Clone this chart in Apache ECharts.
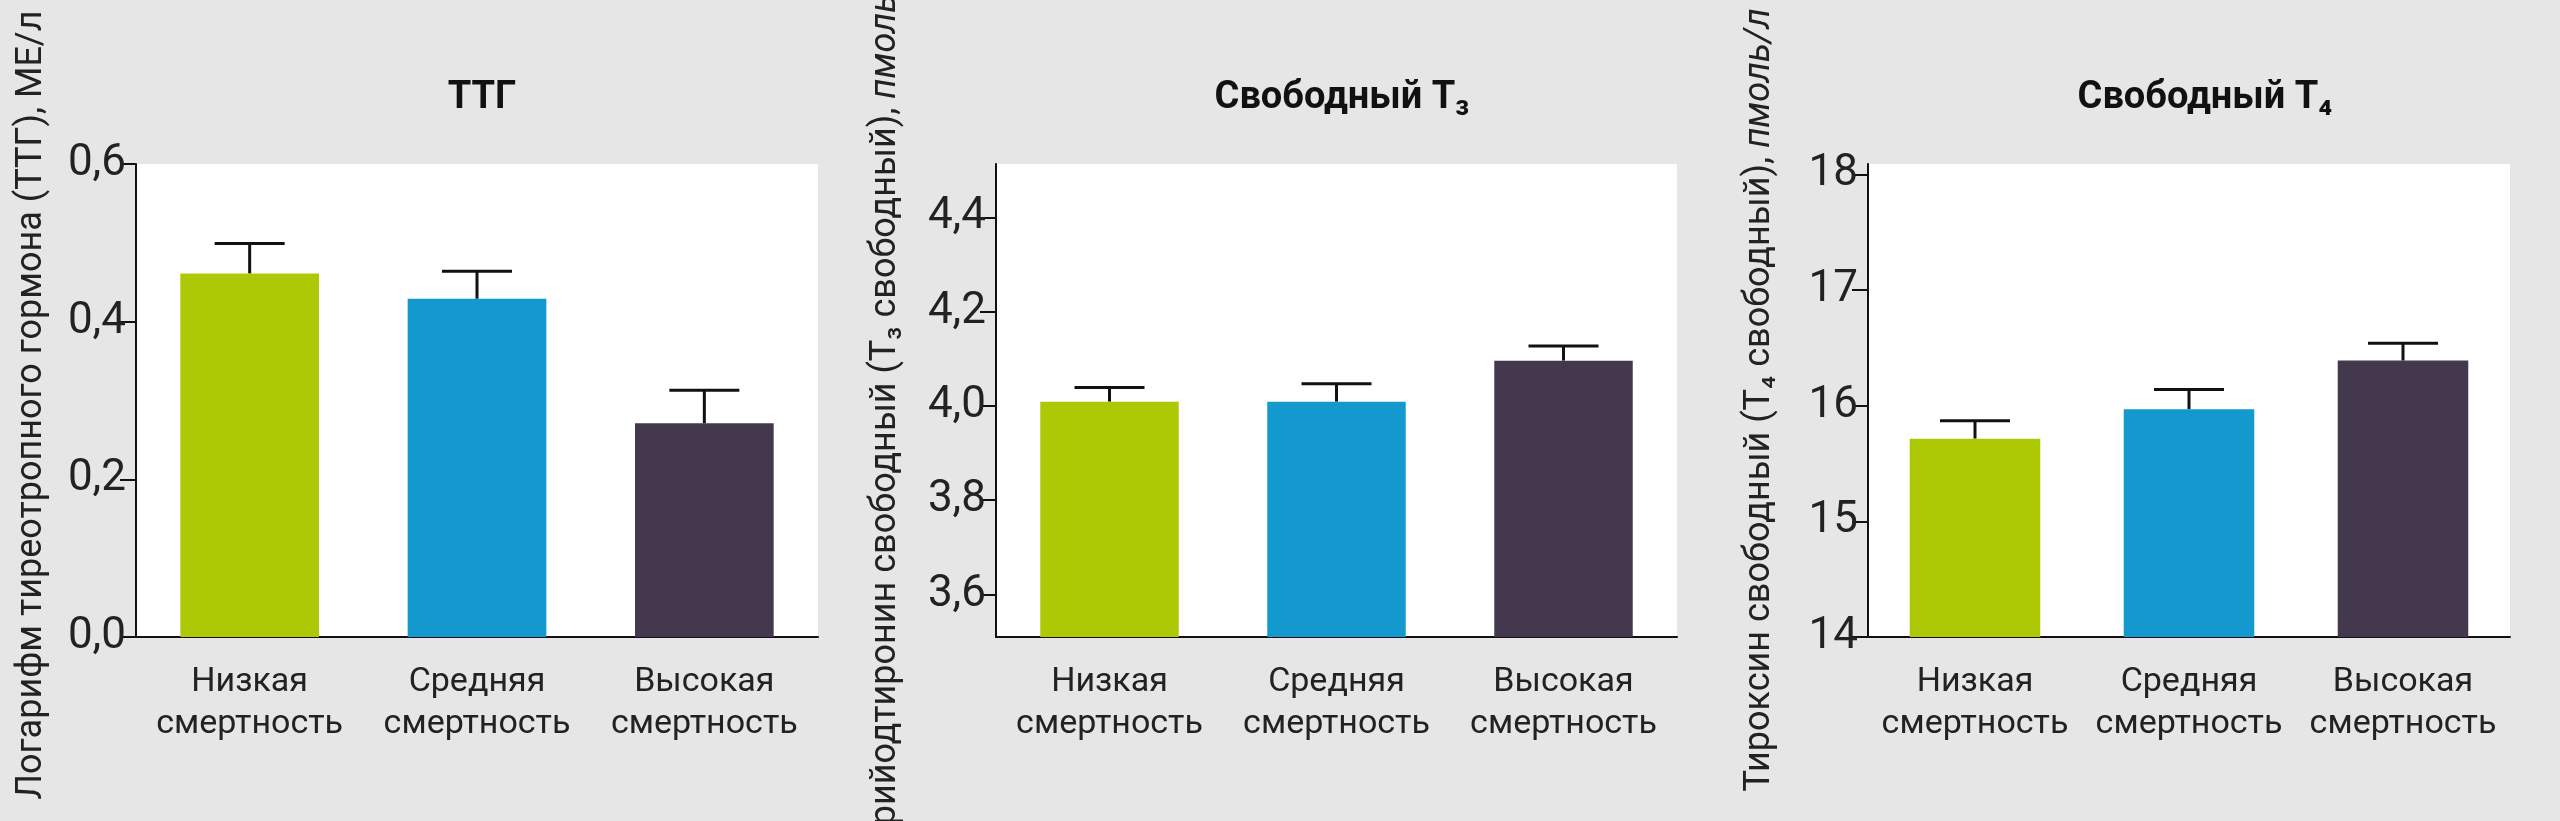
<!DOCTYPE html>
<html lang="ru">
  <head>
    <meta charset="UTF-8">
    <title>ТТГ, свободный Т3 и Т4</title>
    <style>
      html, body { margin: 0; padding: 0; background: #e6e6e6; }
      #main { width: 2560px; height: 821px; }
    </style>
  </head>
  <body>
    <div id="main"></div>
    <script src="https://cdn.jsdelivr.net/npm/echarts@6/dist/echarts.min.js"></script>
    <script>
      // данные
      var categories = ['Низкая\nсмертность', 'Средняя\nсмертность', 'Высокая\nсмертность'];
      var colors = ['#adc905', '#1499cf', '#44384f'];
      var ttgMean = [0.461, 0.429, 0.271];
      var ttgUpper = [0.499, 0.464, 0.313];
      var t3Mean = [4.009, 4.009, 4.096];
      var t3Upper = [4.039, 4.047, 4.127];
      var t4Mean = [15.715, 15.97, 16.39];
      var t4Upper = [15.87, 16.14, 16.54];
      var ttgTicks = [0, 0.2, 0.4, 0.6];
      var t3Ticks = [3.6, 3.8, 4.0, 4.2, 4.4];
      var t4Ticks = [14, 15, 16, 17, 18];

      var font = '"Roboto", "Noto Sans", sans-serif';
      var grids = [
        { left: 136, width: 682, top: 164, height: 473 },
        { left: 996, width: 681, top: 164, height: 473 },
        { left: 1868, width: 642, top: 164, height: 473 }
      ];

      function fmt(v, digits) {
        return v.toFixed(digits).replace('.', ',');
      }

      function xAxis(i) {
        return {
          type: 'category', gridIndex: i, data: categories,
          axisLine: { lineStyle: { color: '#111', width: 2 } },
          axisTick: { alignWithLabel: true, interval: 0, length: 16, lineStyle: { color: '#111', width: 2 } },
          axisLabel: { interval: 0, color: '#222', fontSize: 34, fontFamily: font, lineHeight: 42, margin: 24 }
        };
      }

      function yAxis(i, min, max, ticks, digits) {
        return {
          type: 'value', gridIndex: i, min: min, max: max,
          splitLine: { show: false },
          axisLine: { show: true, lineStyle: { color: '#111', width: 2 } },
          axisTick: { show: true, length: 16, customValues: ticks, lineStyle: { color: '#111', width: 2 } },
          axisLabel: {
            customValues: ticks, color: '#222', fontSize: 44, fontFamily: font, margin: 10,
            formatter: function (v) { return fmt(v, digits); }
          }
        };
      }

      function barSeries(i, values) {
        return {
          type: 'bar', xAxisIndex: i, yAxisIndex: i, barWidth: '61%',
          data: values.map(function (v, k) { return { value: v, itemStyle: { color: colors[k] } }; })
        };
      }

      function errSeries(i, mean, upper) {
        return {
          type: 'custom', xAxisIndex: i, yAxisIndex: i, z: 1,
          data: mean.map(function (m, k) { return [k, m, upper[k]]; }),
          renderItem: function (params, api) {
            var base = api.coord([api.value(0), api.value(1)]);
            var top = api.coord([api.value(0), api.value(2)]);
            var half = 35;
            return {
              type: 'group',
              children: [
                { type: 'line', shape: { x1: base[0], y1: base[1], x2: top[0], y2: top[1] }, style: { stroke: '#111', lineWidth: 3 } },
                { type: 'line', shape: { x1: top[0] - half, y1: top[1], x2: top[0] + half, y2: top[1] }, style: { stroke: '#111', lineWidth: 3 } }
              ]
            };
          }
        };
      }

      function yName(x, y, size, main, unit, italic) {
        return {
          type: 'text', x: x, y: y, rotation: Math.PI / 2,
          style: {
            text: '{a|' + main + '}{b|' + unit + '}',
            align: 'center', verticalAlign: 'middle',
            rich: {
              a: { fontSize: size, fontFamily: font, fill: '#222' },
              b: { fontSize: size, fontFamily: font, fill: '#222', fontStyle: italic ? 'italic' : 'normal' }
            }
          }
        };
      }

      var titleStyle = { fontSize: 38, fontWeight: 'bold', fontFamily: font, color: '#111' };

      var chart = echarts.init(document.getElementById('main'));
      chart.setOption({
        backgroundColor: '#e6e6e6',
        animation: false,
        title: [
          { text: 'ТТГ', left: 477, top: 74, textAlign: 'center', textStyle: titleStyle },
          { text: 'Свободный Т₃', left: 1337, top: 74, textAlign: 'center', textStyle: titleStyle },
          { text: 'Свободный Т₄', left: 2200, top: 74, textAlign: 'center', textStyle: titleStyle }
        ],
        grid: grids.map(function (g) {
          return Object.assign({ show: true, backgroundColor: '#fff', borderWidth: 0 }, g);
        }),
        xAxis: [xAxis(0), xAxis(1), xAxis(2)],
        yAxis: [
          yAxis(0, 0, 0.6, ttgTicks, 1),
          yAxis(1, 3.51, 4.513, t3Ticks, 1),
          yAxis(2, 14, 18.09, t4Ticks, 0)
        ],
        series: [
          errSeries(0, ttgMean, ttgUpper), barSeries(0, ttgMean),
          errSeries(1, t3Mean, t3Upper), barSeries(1, t3Mean),
          errSeries(2, t4Mean, t4Upper), barSeries(2, t4Mean)
        ],
        graphic: [
          yName(32, 405, 36, 'Логарифм тиреотропного гормона (ТТГ), ', 'МЕ/л', false),
          yName(886, 402, 36, 'Трийодтиронин свободный (Т₃ свободный), ', 'пмоль/л', true),
          yName(1760, 400, 36, 'Тироксин свободный (Т₄ свободный), ', 'пмоль/л', true)
        ]
      });
    </script>
  </body>
</html>
